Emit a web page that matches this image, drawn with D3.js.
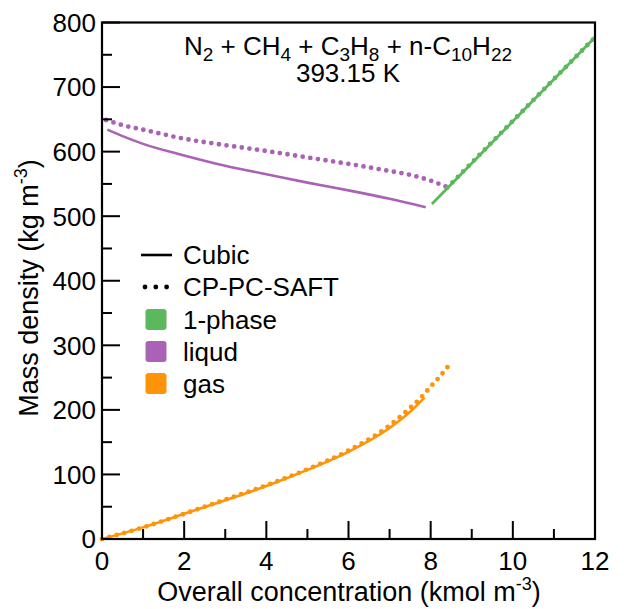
<!DOCTYPE html>
<html><head><meta charset="utf-8">
<script src="https://cdn.jsdelivr.net/npm/d3@7"></script>
<style>
body{margin:0;background:#fff;}
text{font-family:"Liberation Sans",Arial,sans-serif;fill:#000;}
</style></head>
<body><svg id="c" width="624" height="609"></svg>
<script>
// ---- data ----
const xTicks = [0, 2, 4, 6, 8, 10, 12];
const yTicks = [0, 100, 200, 300, 400, 500, 600, 700, 800];

const gasCubicX = [0, 1, 2, 3, 4, 5, 6, 7, 7.5, 7.85];
const gasCubicY = [0, 18, 39, 60, 82, 107, 135, 172, 197, 219];
const gasSaftX  = [0, 1, 2, 3, 4, 5, 6, 7, 7.5, 7.75, 8.0, 8.2, 8.42];
const gasSaftY  = [0, 18, 39, 61, 83, 108, 137, 176, 203, 218, 236, 250, 267];

const liqCubicX = [0.13, 0.5, 1, 2, 3, 4, 5, 6, 7, 7.88];
const liqCubicY = [634, 624, 612, 594, 578, 565, 552, 540, 527, 514];
const liqSaftX  = [0.1, 0.5, 1, 2, 3, 4, 5, 6, 7, 7.5, 8, 8.4];
const liqSaftY  = [649, 641, 634, 620, 610, 601, 591, 581, 570, 564, 555, 545];

const oneCubicX = [8.03, 12];
const oneCubicY = [519, 777];
const oneSaftX  = [8.4, 12];
const oneSaftY  = [544, 777];

const legendLines = ["Cubic", "CP-PC-SAFT"];
const legendPhases = ["1-phase", "liqud", "gas"];
const colors = {"1-phase": "#5cb85c", "liqud": "#a962b5", "gas": "#ff9409"};

// ---- chart ----
const svg = d3.select("#c");
const L = 102, R = 595, T = 22.5, B = 539;
const x = d3.scaleLinear().domain([0, 12]).range([L, R]);
const y = d3.scaleLinear().domain([0, 800]).range([B, T]);

const line = d3.line().x(d => x(d[0])).y(d => y(d[1])).curve(d3.curveMonotoneX);
const zip = (a, b) => a.map((v, i) => [v, b[i]]);

function solid(xs, ys, col, w) {
  svg.append("path").datum(zip(xs, ys)).attr("d", line)
    .attr("fill", "none").attr("stroke", col).attr("stroke-width", w).attr("stroke-linecap", "butt");
}
function dotted(xs, ys, col) {
  svg.append("path").datum(zip(xs, ys)).attr("d", line)
    .attr("fill", "none").attr("stroke", col).attr("stroke-width", 4.8)
    .attr("stroke-linecap", "round").attr("stroke-dasharray", "0 7.7");
}

solid(gasCubicX, gasCubicY, colors.gas, 2.6);
dotted(gasSaftX, gasSaftY, colors.gas);
solid(liqCubicX, liqCubicY, colors.liqud, 2.6);
dotted(liqSaftX, liqSaftY, colors.liqud);
solid(oneCubicX, oneCubicY, colors["1-phase"], 2.8);
dotted(oneSaftX, oneSaftY, colors["1-phase"]);

// axes (ticks inward)
const gx = svg.append("g").attr("transform", `translate(0,${B})`);
d3.range(0, 13, 1).forEach(v => {
  const len = v % 2 === 0 ? 18 : 10;
  gx.append("line").attr("x1", x(v)).attr("x2", x(v)).attr("y1", 0).attr("y2", -len)
    .attr("stroke", "#000").attr("stroke-width", 2);
});
xTicks.forEach(v => {
  gx.append("text").attr("x", x(v)).attr("y", 31).attr("text-anchor", "middle")
    .attr("font-size", 26).text(v);
});
const gy = svg.append("g").attr("transform", `translate(${L},0)`);
d3.range(0, 801, 50).forEach(v => {
  const len = v % 100 === 0 ? 18 : 10;
  gy.append("line").attr("x1", 0).attr("x2", len).attr("y1", y(v)).attr("y2", y(v))
    .attr("stroke", "#000").attr("stroke-width", 2);
});
yTicks.forEach(v => {
  gy.append("text").attr("x", -6).attr("y", y(v)).attr("dy", "0.36em").attr("text-anchor", "end")
    .attr("font-size", 26).text(v);
});

// frame
svg.append("rect").attr("x", L).attr("y", T).attr("width", R - L).attr("height", B - T)
  .attr("fill", "none").attr("stroke", "#000").attr("stroke-width", 2.2);

// axis labels
const xl = svg.append("text").attr("x", 349).attr("y", 601).attr("text-anchor", "middle").attr("font-size", 27);
xl.append("tspan").text("Overall concentration (kmol m");
xl.append("tspan").attr("font-size", 18).attr("dy", -11).text("-3");
xl.append("tspan").attr("dy", 11).text(")");

const yl = svg.append("text").attr("transform", `translate(38,288) rotate(-90)`)
  .attr("text-anchor", "middle").attr("font-size", 27);
yl.append("tspan").text("Mass density (kg m");
yl.append("tspan").attr("font-size", 18).attr("dy", -11).text("-3");
yl.append("tspan").attr("dy", 11).text(")");

// title
const cx = 348;
const t1 = svg.append("text").attr("x", cx).attr("y", 55).attr("text-anchor", "middle").attr("font-size", 26);
const parts = [["N",0],["2",1],[" + CH",0],["4",1],[" + C",0],["3",1],["H",0],["8",1],[" + n-C",0],["10",1],["H",0],["22",1]];
let sub = false;
parts.forEach(([s, isSub]) => {
  const ts = t1.append("tspan").text(s);
  if (isSub && !sub) { ts.attr("dy", 6).attr("font-size", 19); sub = true; }
  else if (isSub) { ts.attr("font-size", 19); }
  else if (!isSub && sub) { ts.attr("dy", -6); sub = false; }
});
svg.append("text").attr("x", cx).attr("y", 82).attr("text-anchor", "middle").attr("font-size", 26).text("393.15 K");

// legend
const lgTx = 183;
const rows = [255, 287, 319.5, 351.5, 383.5];
svg.append("line").attr("x1", 141).attr("x2", 172).attr("y1", rows[0]).attr("y2", rows[0])
  .attr("stroke", "#000").attr("stroke-width", 2.6);
svg.append("line").attr("x1", 145).attr("x2", 167).attr("y1", rows[1]).attr("y2", rows[1])
  .attr("stroke", "#000").attr("stroke-width", 4.8).attr("stroke-linecap", "round").attr("stroke-dasharray", "0 10.8");
legendLines.forEach((s, i) => {
  svg.append("text").attr("x", lgTx).attr("y", rows[i]).attr("dy", "0.36em").attr("font-size", 26).text(s);
});
legendPhases.forEach((s, i) => {
  const yy = rows[i + 2];
  svg.append("rect").attr("x", 145.5).attr("y", yy - 10.5).attr("width", 21).attr("height", 21)
    .attr("rx", 3).attr("fill", colors[s]);
  svg.append("text").attr("x", lgTx).attr("y", yy).attr("dy", "0.36em").attr("font-size", 26).text(s);
});
</script></body></html>
